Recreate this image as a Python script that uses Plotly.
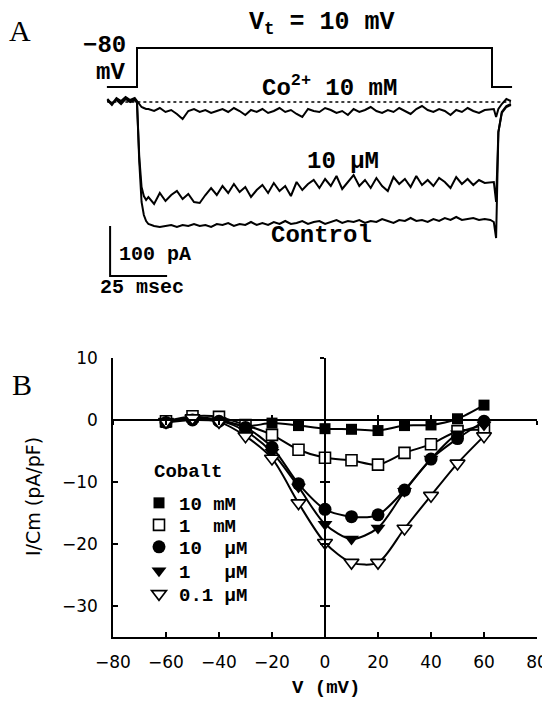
import plotly.graph_objects as go

# The page body has an 8 px margin, so the figure is sized to the visible area.
OFF = 8
W, H = 550 - OFF, 707 - OFF


def pxx(x):
    return (x - OFF) / W


def pxy(y):
    return 1 - (y - OFF) / H


# ---------------- Panel B data ----------------
voltage_mV = [-60, -50, -40, -30, -20, -10, 0, 10, 20, 30, 40, 50, 60]
co_10mM = [-0.4, 0.4, 0.1, -1.0, -0.5, -0.9, -1.4, -1.5, -1.7, -0.9, -0.8, 0.2, 2.4]
co_1mM = [-0.2, 0.6, 0.5, -0.8, -2.4, -4.8, -6.1, -6.5, -7.2, -5.3, -3.9, -1.8, -1.6]
co_10uM = [-0.4, 0.0, -0.2, -1.2, -4.4, -10.3, -14.4, -15.6, -15.3, -11.3, -6.3, -3.0, -0.2]
co_1uM = [-0.3, 0.2, -0.1, -1.8, -5.2, -10.8, -16.8, -19.2, -17.4, -11.5, -6.3, -2.2, -0.8]
co_01uM = [-0.3, 0.3, -0.3, -2.6, -6.2, -13.4, -19.8, -23.0, -23.0, -17.5, -12.2, -7.0, -2.6]
series_names = ["10\u00a0mM", "1\u00a0\u00a0mM", "10\u00a0\u00a0\u00b5M", "1\u00a0\u00a0\u00a0\u00b5M", "0.1\u00a0\u00b5M"]
x_ticks = [-80, -60, -40, -20, 0, 20, 40, 60, 80]
y_ticks = [-30, -20, -10, 0, 10]

# ---------------- Panel A data ----------------
time_ms = [
    -13, -11, -9, -7, -5, -3, -1, 0,
    1, 2, 3, 4,
    5, 7.5, 10, 12.5, 15, 17.5, 20, 22.5, 25, 27.5,
    30, 32.5, 35, 37.5, 40, 42.5, 45, 47.5, 50, 52.5,
    55, 57.5, 60, 62.5, 65, 67.5, 70, 72.5, 75, 77.5,
    80, 82.5, 85, 87.5, 90, 92.5, 95, 97.5, 100, 102.5,
    105, 107.5, 110, 112.5, 115, 117.5, 120, 122.5, 125, 127.5,
    130, 132.5, 135, 137.5, 140, 142.5, 145, 147.5, 150, 152.5,
    155,
    156.5, 157.5, 158.5, 160, 162, 164,
]
current_co10mM = [
    6, -4, 8, 2, 10, 4, 8, 2,
    -6, -10, -12, -14,
    -14, -18, -12, -20, -16, -24, -34, -18, -14, -20,
    -16, -22, -18, -14, -20, -12, -18, -26, -16, -20,
    -14, -22, -18, -12, -20, -16, -24, -30, -14, -18,
    -20, -12, -16, -22, -18, -26, -14, -20, -16, -10,
    -18, -22, -16, -20, -12, -18, -24, -14, -8, -16,
    -20, -14, -18, -26, -16, -20, -12, -18, -22, -16,
    -14,
    -14, -30, -14, -4, 6, 2,
]
current_control = [
    4, -6, 6, 0, 8, 2, 6, 0,
    -120, -200, -226, -238,
    -244, -248, -250, -248, -246, -250, -246, -248, -244, -248,
    -246, -250, -244, -246, -242, -248, -244, -246, -240, -246,
    -242, -246, -240, -244, -238, -244, -242, -238, -244, -240,
    -238, -244, -240, -236, -242, -238, -240, -236, -242, -238,
    -240, -234, -238, -242, -236, -238, -232, -238, -236, -240,
    -234, -238, -232, -236, -230, -236, -234, -232, -236, -234,
    -236,
    -240, -272, -60, -20, -8, -4,
]
current_10uM = [
    2, -2, 4, -4, 6, 0, 4, -2,
    -110, -170, -188, -196,
    -190, -204, -182, -198, -186, -178, -194, -184, -200, -202,
    -186, -172, -186, -168, -182, -164, -180, -170, -190, -176,
    -166, -182, -162, -178, -168, -188, -160, -176, -164, -156,
    -172, -154, -168, -148, -174, -160, -146, -168, -156, -172,
    -152, -168, -178, -150, -164, -154, -170, -148, -166, -156,
    -168, -152, -160, -172, -150, -164, -154, -166, -156, -162,
    -160,
    -160, -200, -60, -22, -10, -6,
]
baseline_t = [-13, 164]
baseline_i = [0, 0]
step_t = [-13.2, 0, 0, 155.7, 155.7, 164.5]
step_v = [-80, -80, 10, 10, -80, -80]
scalebar_t = [-11.8, -11.8, 13.2]
scalebar_i = [-248, -348, -348]

mono = "Liberation Mono"
fig = go.Figure()

# ---- Panel A traces ----
fig.add_trace(go.Scatter(x=baseline_t, y=baseline_i, mode="lines", xaxis="x2", yaxis="y2",
                         line=dict(color="black", width=1.5, dash="dot"), showlegend=False, hoverinfo="skip"))
for cur in (current_co10mM, current_10uM, current_control):
    fig.add_trace(go.Scatter(x=time_ms, y=cur, mode="lines", xaxis="x2", yaxis="y2",
                             line=dict(color="black", width=2), showlegend=False, hoverinfo="skip"))
fig.add_trace(go.Scatter(x=step_t, y=step_v, mode="lines", xaxis="x2", yaxis="y5",
                         line=dict(color="black", width=2), showlegend=False, hoverinfo="skip"))
fig.add_trace(go.Scatter(x=scalebar_t, y=scalebar_i, mode="lines", xaxis="x2", yaxis="y2",
                         line=dict(color="black", width=2), showlegend=False, hoverinfo="skip"))

# ---- Panel B traces ----
all_series = [co_10mM, co_1mM, co_10uM, co_1uM, co_01uM]
markers = [
    dict(symbol="square", size=11, color="black"),
    dict(symbol="square", size=11, color="white", line=dict(color="black", width=1.6)),
    dict(symbol="circle", size=13, color="black"),
    dict(symbol="triangle-down", size=13, color="black"),
    dict(symbol="triangle-down", size=13, color="white", line=dict(color="black", width=1.6)),
]
legend_ids = ["legend", "legend2", "legend3", "legend4", "legend5"]
legend_rows_px = [503, 525, 547, 571, 594]
for vals in all_series:
    fig.add_trace(go.Scatter(x=voltage_mV, y=vals, mode="lines",
                             line=dict(color="black", width=2, shape="spline", smoothing=0.8),
                             showlegend=False, hoverinfo="skip"))
for vals, name, mk, lg in zip(all_series, series_names, markers, legend_ids):
    fig.add_trace(go.Scatter(x=voltage_mV, y=vals, mode="markers", name=name, marker=mk, legend=lg))

# dummy traces to register crossing axes
for xa, ya in (("x3", "y"), ("x4", "y"), ("x", "y3"), ("x", "y4")):
    fig.add_trace(go.Scatter(x=[], y=[], xaxis=xa, yaxis=ya, showlegend=False, hoverinfo="skip"))

xdom = [pxx(113), pxx(537)]
ydom = [pxy(637), pxy(358)]
yr = [-35, 10]
xr = [-80, 80]
ypos0 = ydom[0] + (0 - yr[0]) / (yr[1] - yr[0]) * (ydom[1] - ydom[0])
xpos0 = xdom[0] + (0 - xr[0]) / (xr[1] - xr[0]) * (xdom[1] - xdom[0])

tickfont = dict(family="DejaVu Sans", size=17, color="black")
common = dict(showgrid=False, zeroline=False, showline=True, linecolor="black", linewidth=1.5,
              tickcolor="black", tickwidth=1.5)

# Panel A axis ranges (ms, pA, mV), visible area from screen pixel OFF
t_per_px = 1 / 2.28
xa2 = [(OFF - 137) * t_per_px, (550 - 137) * t_per_px]
ya2 = [(102 - 300) * 2, (102 - OFF) * 2]
v_per_px = 90 / 39
ya5 = [-80 - (300 - 87) * v_per_px, -80 + (87 - OFF) * v_per_px]

legend_font = dict(family=mono, size=19, color="black", weight="bold")
legend_layouts = {}
for lg, row in zip(legend_ids, legend_rows_px):
    legend_layouts[lg] = dict(x=pxx(139), y=pxy(row), xanchor="left", yanchor="middle",
                              font=legend_font, bgcolor="rgba(0,0,0,0)", itemsizing="trace")

fig.update_layout(
    width=W, height=H,
    margin=dict(l=0, r=0, t=0, b=0, autoexpand=False),
    paper_bgcolor="white", plot_bgcolor="rgba(0,0,0,0)",
    xaxis=dict(domain=xdom, range=xr, tickvals=x_ticks, ticks="inside", ticklen=5,
               tickfont=tickfont, ticklabelstandoff=9, anchor="y", automargin=False, **common),
    yaxis=dict(domain=ydom, range=yr, tickvals=y_ticks, ticks="inside", ticklen=5,
               tickfont=tickfont, ticklabelstandoff=10, anchor="x", automargin=False, **common),
    xaxis3=dict(overlaying="x", anchor="free", position=ypos0, range=xr, tickvals=x_ticks,
                ticks="inside", ticklen=4, showticklabels=False, **common),
    xaxis4=dict(overlaying="x", anchor="free", position=ypos0, range=xr, tickvals=x_ticks,
                ticks="outside", ticklen=4, showticklabels=False, **common),
    yaxis3=dict(overlaying="y", anchor="free", position=xpos0, range=yr, tickvals=[-30, -20, -10, 10],
                ticks="inside", ticklen=4, showticklabels=False, **common),
    yaxis4=dict(overlaying="y", anchor="free", position=xpos0, range=yr, tickvals=[-30, -20, -10, 10],
                ticks="outside", ticklen=4, showticklabels=False, **common),
    xaxis2=dict(domain=[0, 1], range=xa2, visible=False, anchor="y2"),
    yaxis2=dict(domain=[pxy(300), 1], range=ya2, visible=False, anchor="x2"),
    yaxis5=dict(overlaying="y2", range=ya5, visible=False, anchor="x2"),
    showlegend=True,
    **legend_layouts,
)


def ann(text, x, y, size, family=mono, xanchor="center", bold=True, angle=0):
    fig.add_annotation(text=text, x=pxx(x), y=pxy(y), xref="paper", yref="paper",
                       xanchor=xanchor, yanchor="middle", showarrow=False, textangle=angle,
                       font=dict(family=family, size=size, color="black",
                                 weight="bold" if bold else "normal"))


ann("A", 20, 30, 30, family="Liberation Serif", bold=False)
ann("B", 22, 384, 30, family="Liberation Serif", bold=False)
ann("V<sub>t</sub> = 10 mV", 322, 24, 25)
ann("\u221280", 104, 46, 24)
ann("mV", 110, 72, 24)
ann("Co<sup>2+</sup> 10 mM", 330, 87, 24)
ann("10 \u00b5M", 343, 162, 24)
ann("Control", 321, 236, 24)
ann("100 pA", 155, 255, 20)
ann("25 msec", 142, 287, 20)
ann("Cobalt", 152, 472, 19, xanchor="left")
ann("I/Cm (pA/pF)", 33, 497, 19, family="DejaVu Sans", bold=False, angle=-90)
ann("V (mV)", 326, 688, 19)

fig.write_html("out.html")
